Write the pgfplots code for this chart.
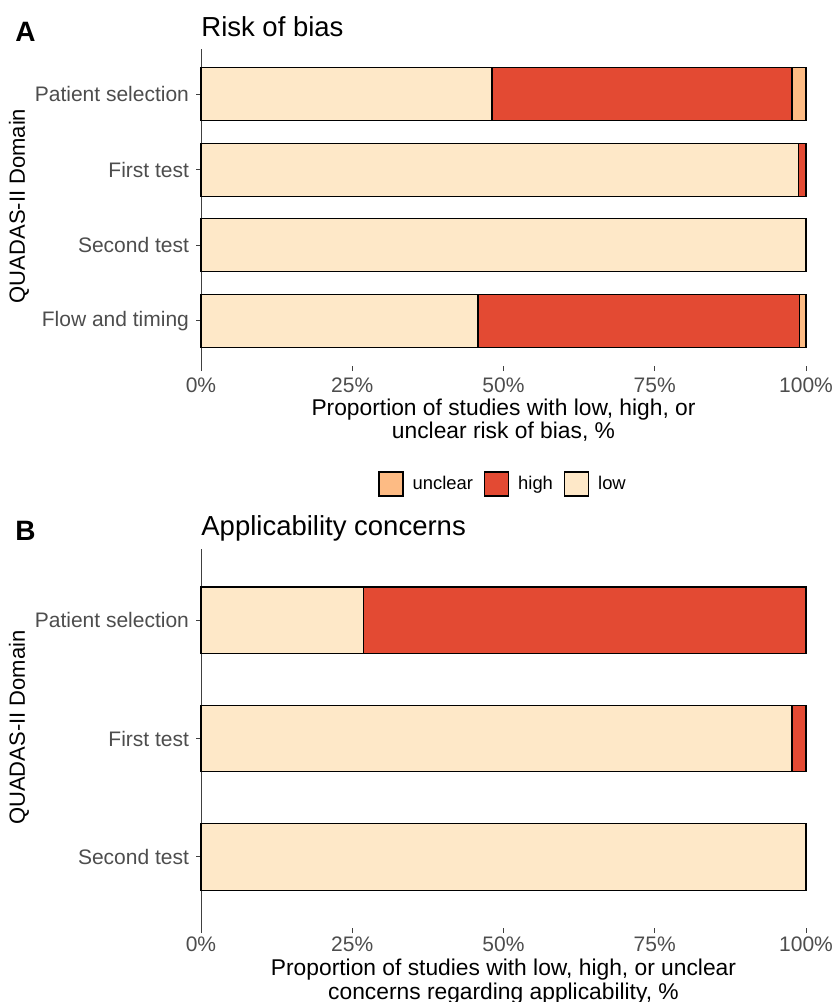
\documentclass[border=0pt]{standalone}
\usepackage{pgfplots}
\pgfplotsset{compat=1.18}
\usepackage{fontspec}
\setmainfont{Liberation Sans}
\definecolor{clow}{HTML}{FEE8C8}
\definecolor{chigh}{HTML}{E34A33}
\definecolor{cunclear}{HTML}{FDBB84}
\definecolor{tickgray}{HTML}{4D4D4D}
\pgfplotsset{
  qstyle/.style={
    xbar stacked,
    scale only axis,
    width=302.5pt,
    xmin=0, xmax=100,
    y dir=reverse,
    enlargelimits=false,
    clip=false,
    axis x line*=bottom,
    axis y line*=left,
    x axis line style={draw=none},
    y axis line style={draw=black!75, line width=0.5pt},
    tick align=outside,
    major tick length=2.5pt,
    tick style={draw=black!75, line width=0.5pt},
    xtick={0,25,50,75,100},
    xticklabels={0\%,25\%,50\%,75\%,100\%},
    ytick={0,1,2,3},
    ticklabel style={font=\fontsize{10.5}{12}\selectfont, text=tickgray},
    every axis plot/.append style={draw=black, line width=0.6pt},
    /pgf/number format/assume math mode=true,
  }
}
\begin{document}
\begin{tikzpicture}
\useasboundingbox (0,0) rectangle (417pt,-501pt);
% Panel A
\begin{axis}[qstyle,
  at={(100.5pt,-183pt)}, anchor=south west,
  height=158.5pt,
  ymin=-0.6, ymax=3.6,
  bar width=0.7,
  yticklabels={Patient selection,First test,Second test,Flow and timing},
  reverse legend,
  legend columns=-1,
  legend style={at={(axis description cs:0.501,-0.372)}, anchor=center, draw=none,
    font=\fontsize{9.2}{11}\selectfont,
    /tikz/every odd column/.append style={column sep=2.5pt},
    /tikz/every even column/.append style={column sep=3.5pt}},
  legend image code/.code={\draw[#1, line width=0.6pt] (0pt,-6pt) rectangle (12pt,6pt);},
]
\addplot[fill=clow] coordinates {(48.1,0) (98.8,1) (100,2) (45.8,3)};
\addplot[fill=chigh] coordinates {(49.6,0) (1.2,1) (0,2) (53.1,3)};
\addplot[fill=cunclear] coordinates {(2.3,0) (0,1) (0,2) (1.1,3)};
\legend{low,high,unclear}
\end{axis}
% Panel B
\begin{axis}[qstyle,
  at={(100.5pt,-464pt)}, anchor=south west,
  height=189.5pt,
  ymin=-0.6, ymax=2.6,
  ytick={0,1,2},
  bar width=0.56,
  yticklabels={Patient selection,First test,Second test},
  xticklabel style={yshift=1.5pt},
]
\addplot[fill=clow] coordinates {(26.9,0) (97.7,1) (100,2)};
\addplot[fill=chigh] coordinates {(73.1,0) (2.3,1) (0,2)};
\end{axis}
% Titles and labels
\node[anchor=base west, inner sep=0] at (7.5pt,-20.5pt) {\fontsize{14}{16}\selectfont\bfseries A};
\node[anchor=base west, inner sep=0] at (7.5pt,-270pt) {\fontsize{14}{16}\selectfont\bfseries B};
\node[anchor=base west, inner sep=0] at (100.5pt,-18pt) {\fontsize{13.75}{16}\selectfont Risk of bias};
\node[anchor=base west, inner sep=0] at (100.5pt,-267.5pt) {\fontsize{13.75}{16}\selectfont Applicability concerns};
\node[anchor=base, inner sep=0] at (251.75pt,-207.5pt) {\fontsize{11.4}{13}\selectfont Proportion of studies with low, high, or};
\node[anchor=base, inner sep=0] at (251.75pt,-219pt) {\fontsize{11.4}{13}\selectfont unclear risk of bias, \%};
\node[anchor=base, inner sep=0] at (251.75pt,-487.5pt) {\fontsize{11.4}{13}\selectfont Proportion of studies with low, high, or unclear};
\node[anchor=base, inner sep=0] at (251.75pt,-499.5pt) {\fontsize{11.4}{13}\selectfont concerns regarding applicability, \%};
\node[anchor=base, inner sep=0, rotate=90] at (12.5pt,-103pt) {\fontsize{11}{13}\selectfont QUADAS-II Domain};
\node[anchor=base, inner sep=0, rotate=90] at (12.5pt,-363.75pt) {\fontsize{11}{13}\selectfont QUADAS-II Domain};
\end{tikzpicture}
\end{document}
